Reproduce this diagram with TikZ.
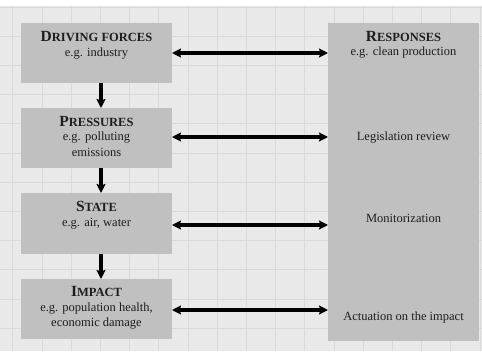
\documentclass[tikz,border=0pt]{standalone}
\usepackage{fontspec}
\setmainfont{Liberation Serif}
\usetikzlibrary{arrows.meta}
\definecolor{bgc}{HTML}{E9E9E9}
\definecolor{gridc}{HTML}{D9D9D9}
\definecolor{boxc}{HTML}{C0C0C0}
\definecolor{txtc}{HTML}{1E1E1E}
\newcommand\sctitle[2]{\bfseries{\fontsize{15.5}{15.5}\selectfont #1}{\fontsize{12.5}{12.5}\selectfont #2}}
\tikzset{
  box/.style={fill=boxc, draw=none, inner sep=0pt, outer sep=0pt, anchor=north west},
  ttl/.style={anchor=base, inner sep=0pt, text=txtc},
  sub/.style={anchor=base, inner sep=0pt, text=txtc, align=center, font=\fontsize{12.5}{15.5}\selectfont},
  dbl/.style={line width=3.5pt, {Stealth[length=9pt,width=9pt,inset=1.5pt]}-{Stealth[length=9pt,width=9pt,inset=1.5pt]}},
  dwn/.style={line width=3.5pt, -{Stealth[length=9pt,width=9pt,inset=1.5pt]}},
}
\begin{document}
\begin{tikzpicture}[x=1pt,y=-1pt]
\useasboundingbox (0,0) rectangle (482,351);
\fill[white] (0,0) rectangle (482,351);
\fill[bgc] (0,6) rectangle (482,351);
\foreach \i in {0,...,16} \draw[gridc, line width=0.7pt] ({12.7+29.2*\i},6) -- ({12.7+29.2*\i},351);
\foreach \j in {0,...,11} \draw[gridc, line width=0.7pt] (0,{7+29.2*\j}) -- (482,{7+29.2*\j});

% boxes
\node[box, minimum width=151pt, minimum height=60pt] (df) at (21,23) {};
\node[box, minimum width=151pt, minimum height=60pt] (pr) at (21,108) {};
\node[box, minimum width=151pt, minimum height=61pt] (st) at (21,193) {};
\node[box, minimum width=151pt, minimum height=60pt] (im) at (21,279) {};
\node[box, minimum width=151pt, minimum height=318pt] (rs) at (328,23) {};

% texts (base anchor = baseline of the last line)
\node[ttl] (dft) at (96.5,41.5) {\sctitle{D}{RIVING FORCES}};
\node[sub] (dfs) at (96.5,56) {e.g. industry};
\node[ttl] (prt) at (96.5,126.5) {\sctitle{P}{RESSURES}};
\node[sub] (prs) at (96.5,156) {e.g. polluting\\emissions};
\node[ttl] (stt) at (96.5,211.5) {\sctitle{S}{TATE}};
\node[sub] (sts) at (96.5,226.5) {e.g. air, water};
\node[ttl] (imt) at (96.5,296.5) {\sctitle{I}{MPACT}};
\node[sub] (ims) at (96.5,326.5) {e.g. population health,\\economic damage};
\node[ttl] (rst) at (403.5,41.5) {\sctitle{R}{ESPONSES}};
\node[sub] (rss) at (403.5,55.5) {e.g. clean production};
\node[sub] (leg) at (403.5,140) {Legislation review};
\node[sub] (mon) at (403.5,222.5) {Monitorization};
\node[sub] (act) at (403.5,320.5) {Actuation on the impact};

% arrow levels
\coordinate (ya) at (0,53);
\coordinate (yb) at (0,137);
\coordinate (yc) at (0,225);
\coordinate (yd) at (0,310);
\coordinate (xv) at (101,0);

\draw[dbl] (df.east |- ya) -- (rs.west |- ya);
\draw[dbl] (pr.east |- yb) -- (rs.west |- yb);
\draw[dbl] (st.east |- yc) -- (rs.west |- yc);
\draw[dbl] (im.east |- yd) -- (rs.west |- yd);

\draw[dwn] (df.south -| xv) -- (pr.north -| xv);
\draw[dwn] (pr.south -| xv) -- (st.north -| xv);
\draw[dwn] (st.south -| xv) -- (im.north -| xv);
\end{tikzpicture}
\end{document}
